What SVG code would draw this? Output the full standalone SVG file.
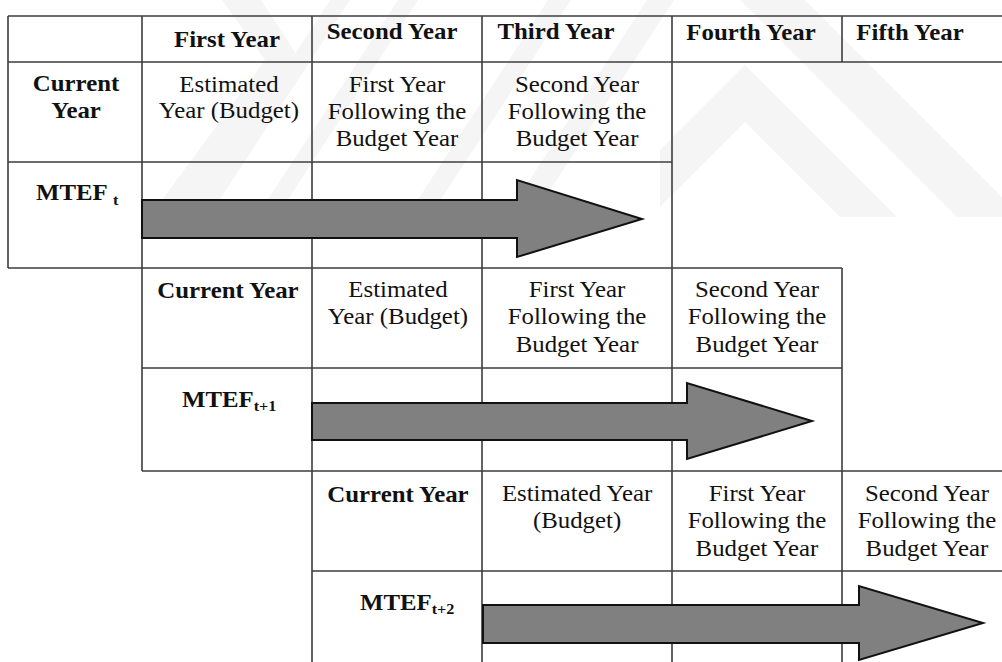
<svg xmlns="http://www.w3.org/2000/svg" width="1002" height="662" viewBox="0 0 1002 662">
<style>
.wm{fill:#f5f5f5;stroke:none}
.ln{stroke:#3c3c3c;stroke-width:1.6;fill:none}
.ar{fill:#808080;stroke:#111;stroke-width:2;stroke-linejoin:miter}
text{font-family:"Liberation Serif","Times New Roman",serif;font-size:23px;fill:#111;text-anchor:middle}
.b{font-weight:bold}
.l{text-anchor:start}
.sub{font-size:15px;font-weight:bold}
</style>
<rect width="1002" height="662" fill="#fff"/>
<g id="watermark">
<polygon class="wm" points="222,0 261,0 300,60 180,230 140,230 265,60"/>
<polygon class="wm" points="330,0 350,0 200,230 180,230"/>
<polygon class="wm" points="398,0 418,0 268,230 248,230"/>
<polygon class="wm" points="548,0 571,0 421,230 398,230"/>
<polygon class="wm" points="647,0 674,0 524,230 497,230"/>
<polygon class="wm" points="740,0 805,0 1002,197 1002,217 957,217"/>
<polygon class="wm" points="660,150 745,65 897,217 840,217 745,122 660,207"/>
</g>
<g id="connectors">
<g id="grid">
<line class="ln" x1="8" y1="16" x2="1002" y2="16"/>
<line class="ln" x1="8" y1="62" x2="1002" y2="62"/>
<line class="ln" x1="8" y1="162" x2="672" y2="162"/>
<line class="ln" x1="8" y1="268" x2="842" y2="268"/>
<line class="ln" x1="142" y1="368" x2="842" y2="368"/>
<line class="ln" x1="142" y1="471" x2="1002" y2="471"/>
<line class="ln" x1="312" y1="571" x2="1002" y2="571"/>
<line class="ln" x1="8" y1="16" x2="8" y2="268"/>
<line class="ln" x1="142" y1="16" x2="142" y2="471"/>
<line class="ln" x1="312" y1="16" x2="312" y2="662"/>
<line class="ln" x1="482" y1="16" x2="482" y2="662"/>
<line class="ln" x1="672" y1="16" x2="672" y2="662"/>
<line class="ln" x1="842" y1="16" x2="842" y2="62"/>
<line class="ln" x1="842" y1="268" x2="842" y2="662"/>
</g>
<polygon id="arrow1" class="ar" points="142,200 517,200 517,180 642,219 517,257 517,238 142,238"/>
<polygon id="arrow2" class="ar" points="312,403 687,403 687,383 812,421 687,459 687,440 312,440"/>
<polygon id="arrow3" class="ar" points="483,605 859,605 859,586 983,623 859,660 859,643 483,643"/>
</g>
<g transform="scale(1.08 1)">
<g id="header">
<text class="b" x="210.2" y="47">First Year</text>
<text class="b" x="363" y="39">Second Year</text>
<text class="b" x="514.8" y="39">Third Year</text>
<text class="b" x="695.4" y="40">Fourth Year</text>
<text class="b" x="842.6" y="40">Fifth Year</text>
</g>
<g id="mtef-t">
<text class="b" x="70.4" y="91">Current</text>
<text class="b" x="70.4" y="118">Year</text>
<text x="212" y="92">Estimated</text>
<text x="212" y="118">Year (Budget)</text>
<text x="367.6" y="92">First Year</text>
<text x="367.6" y="119">Following the</text>
<text x="367.6" y="146">Budget Year</text>
<text x="534.3" y="92">Second Year</text>
<text x="534.3" y="119">Following the</text>
<text x="534.3" y="146">Budget Year</text>
<text class="b l" x="33.3" y="200">MTEF<tspan class="sub" x="104.6" dy="5">t</tspan></text>
</g>
<g id="mtef-t1">
<text class="b" x="211.1" y="298">Current Year</text>
<text x="368.5" y="297">Estimated</text>
<text x="368.5" y="324">Year (Budget)</text>
<text x="534.3" y="297">First Year</text>
<text x="534.3" y="324">Following the</text>
<text x="534.3" y="352">Budget Year</text>
<text x="700.9" y="297">Second Year</text>
<text x="700.9" y="324">Following the</text>
<text x="700.9" y="352">Budget Year</text>
<text class="b l" x="168.5" y="407">MTEF<tspan class="sub" dy="4">t+1</tspan></text>
</g>
<g id="mtef-t2">
<text class="b" x="368.5" y="502">Current Year</text>
<text x="534.3" y="501">Estimated Year</text>
<text x="534.3" y="528">(Budget)</text>
<text x="700.9" y="501">First Year</text>
<text x="700.9" y="528">Following the</text>
<text x="700.9" y="556">Budget Year</text>
<text x="858.3" y="501">Second Year</text>
<text x="858.3" y="528">Following the</text>
<text x="858.3" y="556">Budget Year</text>
<text class="b l" x="333.3" y="610">MTEF<tspan class="sub" dy="4">t+2</tspan></text>
</g>
</g>
</svg>
